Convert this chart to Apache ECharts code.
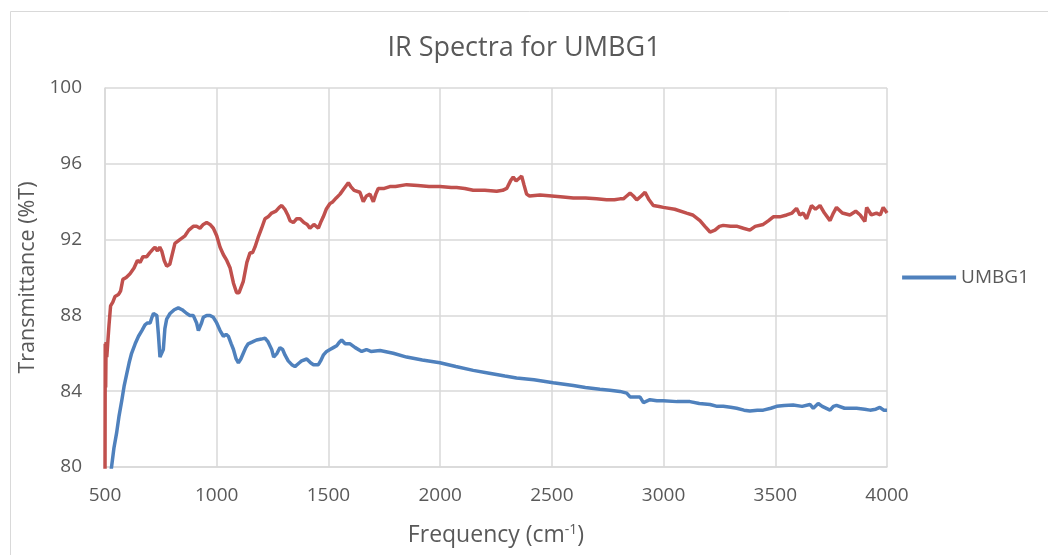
<!DOCTYPE html>
<html><head><meta charset="utf-8">
<script src="https://cdn.jsdelivr.net/npm/echarts@6/dist/echarts.min.js"></script>
<style>html,body{margin:0;padding:0;background:#fff}#c{width:1048px;height:555px}</style>
</head><body><div id="c"></div>
<script>
const titleText = 'IR Spectra for UMBG1';
const xTicks = [500, 1000, 1500, 2000, 2500, 3000, 3500, 4000];
const yTicks = [80, 84, 88, 92, 96, 100];

// Unlabelled reference spectrum (red), [frequency, %T]
const redSpectrum = [[500,79],[501,86.5],[503,84.2],[505,86.6],[508,85.8],[512,86.5],[518,87.5],[525,88.5],[535,88.7],[545,89],[560,89.1],[570,89.3],[580,89.9],[595,90.0],[612,90.2],[630,90.5],[645,90.9],[657,90.8],[670,91.1],[687,91.1],[700,91.3],[715,91.5],[724,91.6],[735,91.4],[745,91.6],[754,91.4],[765,90.9],[776,90.6],[790,90.7],[798,90.7],[813,91.8],[835,92.0],[858,92.2],[875,92.5],[895,92.7],[910,92.7],[925,92.6],[940,92.8],[955,92.9],[970,92.8],[985,92.6],[1000,92.2],[1015,91.6],[1030,91.2],[1045,90.9],[1060,90.5],[1075,89.7],[1089,89.2],[1100,89.2],[1119,89.8],[1135,90.8],[1149,91.3],[1160,91.3],[1171,91.6],[1185,92.1],[1201,92.6],[1216,93.1],[1230,93.2],[1246,93.4],[1265,93.5],[1280,93.7],[1291,93.8],[1305,93.6],[1318,93.3],[1328,93.0],[1343,92.9],[1358,93.1],[1373,93.1],[1390,92.9],[1405,92.8],[1417,92.6],[1435,92.8],[1455,92.6],[1465,92.9],[1477,93.2],[1490,93.6],[1507,93.9],[1520,94.0],[1535,94.2],[1552,94.4],[1570,94.7],[1589,95.0],[1600,94.8],[1615,94.6],[1641,94.5],[1656,94.0],[1670,94.3],[1686,94.4],[1701,94.0],[1712,94.4],[1723,94.7],[1750,94.7],[1775,94.8],[1800,94.8],[1850,94.9],[1900,94.85],[1950,94.8],[1999,94.8],[2050,94.75],[2074,94.75],[2110,94.7],[2148,94.6],[2200,94.6],[2253,94.55],[2280,94.6],[2298,94.7],[2315,95.1],[2327,95.3],[2340,95.1],[2350,95.2],[2365,95.35],[2375,94.9],[2387,94.4],[2400,94.3],[2447,94.35],[2500,94.3],[2550,94.25],[2596,94.2],[2650,94.2],[2700,94.15],[2745,94.1],[2780,94.1],[2805,94.15],[2820,94.15],[2835,94.3],[2850,94.45],[2865,94.3],[2880,94.1],[2900,94.3],[2917,94.5],[2935,94.1],[2954,93.8],[2980,93.75],[2999,93.7],[3050,93.6],[3103,93.4],[3130,93.3],[3163,93.0],[3185,92.7],[3208,92.4],[3230,92.5],[3250,92.7],[3267,92.75],[3300,92.7],[3330,92.7],[3357,92.6],[3386,92.5],[3410,92.7],[3446,92.8],[3470,93.0],[3491,93.2],[3520,93.2],[3551,93.3],[3575,93.4],[3595,93.65],[3610,93.3],[3625,93.4],[3640,93.1],[3662,93.8],[3680,93.6],[3700,93.8],[3720,93.4],[3745,93.0],[3760,93.4],[3774,93.7],[3800,93.4],[3834,93.3],[3860,93.5],[3880,93.3],[3901,92.95],[3909,93.7],[3930,93.3],[3953,93.4],[3970,93.3],[3983,93.7],[4000,93.4]];

// UMBG1 spectrum (blue), [frequency, %T]
const umbg1 = [[525,79.6],[540,81],[552,81.8],[563,82.7],[575,83.5],[586,84.3],[597,84.9],[608,85.5],[619,86.0],[635,86.5],[650,86.9],[665,87.2],[679,87.5],[690,87.6],[702,87.6],[710,87.9],[717,88.1],[725,88.1],[732,88.0],[739,87.0],[746,85.8],[753,85.9],[761,86.2],[768,87.3],[776,87.8],[791,88.1],[810,88.3],[828,88.4],[845,88.3],[866,88.1],[880,88.0],[895,88.0],[910,87.6],[918,87.2],[925,87.1],[932,87.6],[940,87.9],[955,88.0],[970,88.0],[985,87.9],[1000,87.6],[1015,87.2],[1030,86.9],[1042,87.0],[1052,86.9],[1065,86.5],[1075,86.2],[1087,85.7],[1097,85.5],[1108,85.7],[1119,86.0],[1130,86.3],[1141,86.5],[1160,86.6],[1178,86.7],[1200,86.75],[1216,86.8],[1230,86.6],[1246,86.2],[1255,85.8],[1261,85.8],[1270,86.0],[1283,86.3],[1295,86.2],[1306,85.9],[1320,85.6],[1336,85.4],[1350,85.3],[1358,85.2],[1370,85.5],[1380,85.6],[1403,85.7],[1420,85.5],[1433,85.4],[1445,85.4],[1455,85.4],[1465,85.6],[1477,85.9],[1492,86.1],[1507,86.2],[1522,86.3],[1537,86.4],[1550,86.6],[1559,86.7],[1575,86.5],[1597,86.5],[1620,86.3],[1649,86.1],[1670,86.2],[1690,86.1],[1731,86.15],[1790,86.0],[1850,85.8],[1920,85.65],[1999,85.5],[2070,85.3],[2148,85.1],[2220,84.95],[2290,84.8],[2342,84.7],[2420,84.6],[2506,84.45],[2596,84.3],[2650,84.2],[2715,84.1],[2760,84.05],[2805,83.99],[2835,83.9],[2850,83.7],[2870,83.7],[2894,83.7],[2910,83.4],[2917,83.4],[2939,83.55],[2970,83.5],[2999,83.5],[3060,83.45],[3118,83.45],[3160,83.35],[3208,83.3],[3240,83.2],[3267,83.2],[3300,83.15],[3327,83.1],[3360,83.0],[3386,82.95],[3420,83.0],[3446,83.0],[3480,83.1],[3506,83.2],[3540,83.25],[3580,83.27],[3620,83.2],[3655,83.3],[3670,83.1],[3692,83.35],[3710,83.2],[3745,83.0],[3760,83.2],[3774,83.25],[3810,83.1],[3864,83.1],[3900,83.05],[3924,83.0],[3950,83.05],[3968,83.15],[3985,83.0],[4000,83.0]];

const FONT = '"Open Sans"';
const GREY = '#595959';
const chart = echarts.init(document.getElementById('c'), null, {renderer: 'canvas'});
chart.setOption({
  animation: false,
  backgroundColor: '#fff',
  textStyle: {fontFamily: FONT},
  graphic: [{type: 'rect', left: 8, top: 9, shape: {width: 1100, height: 600}, style: {fill: 'none', stroke: '#d9d9d9', lineWidth: 1}, silent: true}],
  title: {text: titleText, left: 'center', top: 30, textStyle: {fontFamily: FONT, fontSize: 27, fontWeight: 'normal', color: GREY}},
  legend: {data: ['UMBG1'], right: 14, top: 'middle', orient: 'vertical', itemWidth: 54, itemHeight: 4, itemGap: 6,
    icon: 'rect', textStyle: {fontFamily: FONT, fontSize: 19, color: GREY}},
  grid: {left: 105, right: 161, top: 88, bottom: 88, containLabel: false},
  xAxis: {type: 'value', min: 500, max: 4000, interval: 500,
    name: 'Frequency (cm{sup|-1})', nameLocation: 'middle', nameGap: 56,
    nameTextStyle: {fontFamily: FONT, fontSize: 23, color: GREY, rich: {sup: {fontSize: 14, color: GREY, fontFamily: FONT, padding: [0,0,11,0]}}},
    axisLine: {lineStyle: {color: '#d9d9d9', width: 1.5}}, axisTick: {show: false},
    axisLabel: {fontFamily: FONT, fontSize: 19, color: GREY, margin: 19, formatter: v => String(v)},
    splitLine: {show: true, lineStyle: {color: '#d9d9d9', width: 1.5}}},
  yAxis: {type: 'value', min: 80, max: 100, interval: 4,
    name: 'Transmittance (%T)', nameLocation: 'middle', nameGap: 62, nameRotate: 90,
    nameTextStyle: {fontFamily: FONT, fontSize: 21.5, color: GREY},
    axisLine: {show: true, lineStyle: {color: '#d9d9d9', width: 1.5}}, axisTick: {show: false},
    axisLabel: {fontFamily: FONT, fontSize: 19, color: GREY, margin: 23, formatter: v => String(v)},
    splitLine: {show: true, lineStyle: {color: '#d9d9d9', width: 1.5}}},
  series: [
    {name: 'Reference', type: 'line', data: redSpectrum, showSymbol: false, symbol: 'none', clip: true,
     lineStyle: {color: '#C0504D', width: 3.5}, itemStyle: {color: '#C0504D'}},
    {name: 'UMBG1', type: 'line', data: umbg1, showSymbol: false, symbol: 'none', clip: true,
     lineStyle: {color: '#4F81BD', width: 3.5}, itemStyle: {color: '#4F81BD'}}
  ]
});
</script></body></html>
